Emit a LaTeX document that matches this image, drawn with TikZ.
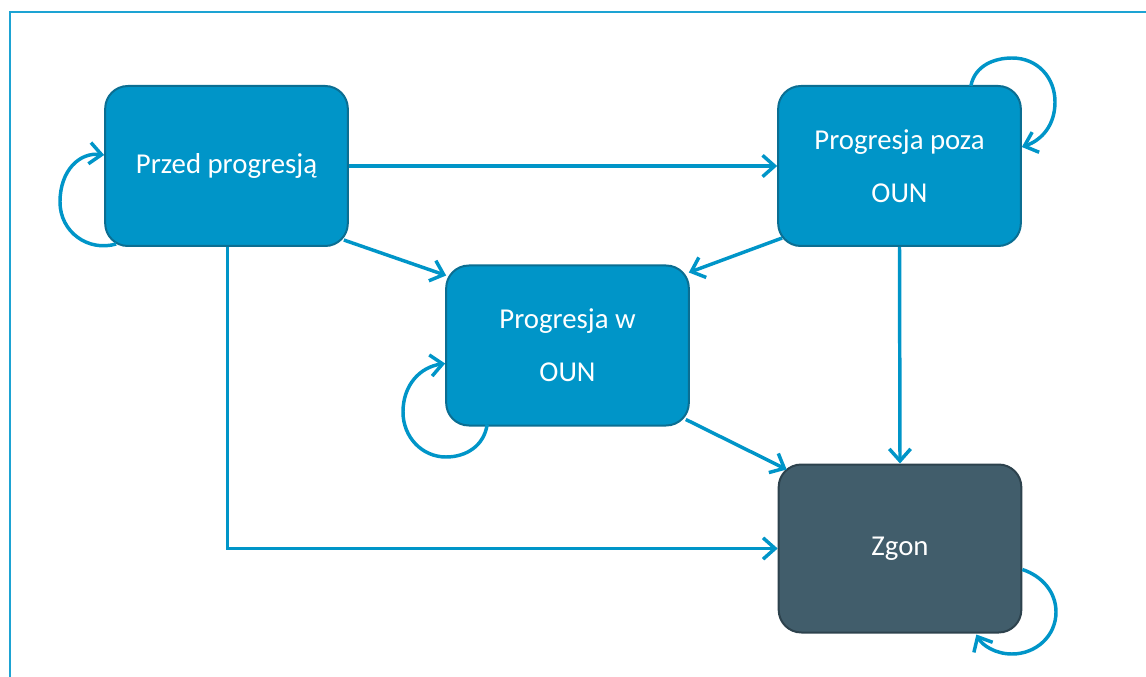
\documentclass[tikz,border=0pt]{standalone}
\usepackage{fontspec}
\setmainfont{Carlito}
\usetikzlibrary{arrows.meta,calc}
\definecolor{boxblue}{HTML}{0095C8}
\definecolor{boxedge}{HTML}{0B6E92}
\definecolor{darkfill}{HTML}{415D6B}
\definecolor{darkedge}{HTML}{2D424D}
\definecolor{arrowblue}{HTML}{0095C8}
\definecolor{framecol}{HTML}{1DA3D3}
\tikzset{
  statebox/.style={draw=boxedge, fill=boxblue, line width=1.5pt, rounded corners=17pt,
    minimum width=182pt, minimum height=120pt, text=white, align=center,
    font=\fontsize{21.6}{40}\selectfont, inner sep=0pt},
  deadbox/.style={statebox, draw=darkedge, fill=darkfill, minimum height=126pt},
  conn/.style={draw=arrowblue, line width=2.6pt, -{Straight Barb[length=9pt,width=16pt,line width=2.6pt]}},
}
\begin{document}
\begin{tikzpicture}[x=0.75pt,y=-0.75pt]
\useasboundingbox (0,0) rectangle (1146,677);
\draw[framecol, line width=1.4pt] (10,677) -- (10,12) -- (1146,12);

\node[statebox] (p) at (226.5,166) {Przed progresją};
\node[statebox] (q) at (899.5,166) {Progresja poza\\OUN};
\node[statebox] (w) at (567.5,345.5) {Progresja w\\OUN};
\node[deadbox] (z) at (900,548.5) {Zgon};

% straight connectors
\draw[conn] (p.east) -- (p.east -| q.west);
\draw[conn] ($(p.south east)+(-5,-7)$) -- ($(w.north west)+(1,11)$);
\draw[conn] ($(q.south west)+(5,-9)$) -- ($(w.north east)+(-1,8)$);
\draw[conn] (q.south) -- (z.north);
\draw[conn] ($(w.south east)+(-4,-7)$) -- ($(z.north west)+(9,6)$);
\draw[conn] ($(p.south)+(1,0)$) |- (z.west);

% self loops
\draw[conn] ($(p.south west)+(12,-3)$) .. controls (88,252) and (60,232) .. (60,202)
   .. controls (60,170) and (80,152) .. ($(p.west)+(0,-11)$);
\draw[conn] ($(q.north east)+(-51,1)$) .. controls (975,65) and (995,58) .. (1012,58)
   .. controls (1038,58) and (1055,78) .. (1055,102)
   .. controls (1055,125) and (1042,140) .. ($(q.east)+(0,-19)$);
\draw[conn] ($(w.south west)+(42,-2)$) .. controls (484,446) and (466,457) .. (446,457)
   .. controls (422,457) and (403,437) .. (403,412)
   .. controls (403,385) and (420,367) .. ($(w.west)+(0,18)$);
\draw[conn] ($(z.east)+(0,21)$) .. controls (1042,576) and (1056,592) .. (1056,612)
   .. controls (1056,636) and (1036,654) .. (1012,654)
   .. controls (995,654) and (982,645) .. ($(z.south east)+(-46,1)$);
\end{tikzpicture}
\end{document}
